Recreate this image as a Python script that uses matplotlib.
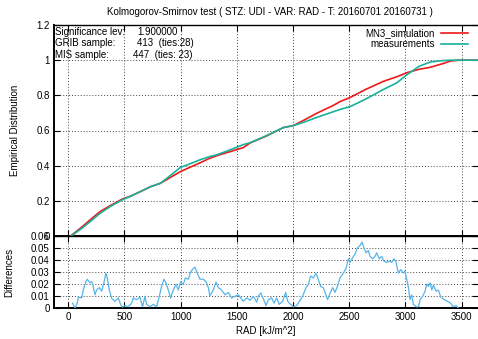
import matplotlib
matplotlib.use("Agg")
import matplotlib.pyplot as plt

plt.rcParams['font.family'] = ['Liberation Sans', 'DejaVu Sans']
plt.rcParams['font.size'] = 7

# empirical distribution curves (knots)
sim_x = [20, 80, 134, 200, 285, 380, 481, 560, 650, 730, 820, 900, 997, 1080, 1175,
         1250, 1327, 1440, 1558, 1620, 1750, 1915, 2003, 2100, 2217, 2350, 2420,
         2511, 2650, 2805, 2920, 3019, 3120, 3224, 3320, 3400, 3480, 3700]
sim_y = [0.0, 0.03, 0.058, 0.095, 0.14, 0.175, 0.21, 0.228, 0.255, 0.28, 0.30, 0.33,
         0.366, 0.39, 0.417, 0.44, 0.458, 0.48, 0.503, 0.53, 0.565, 0.617, 0.628,
         0.66, 0.70, 0.74, 0.765, 0.789, 0.835, 0.88, 0.905, 0.93, 0.948, 0.96,
         0.978, 0.995, 1.0, 1.0]
mis_x = [25, 80, 134, 200, 285, 380, 481, 560, 650, 730, 820, 900, 997, 1080, 1175,
         1250, 1327, 1440, 1558, 1620, 1750, 1915, 2003, 2100, 2217, 2350, 2420,
         2511, 2650, 2805, 2920, 3019, 3120, 3224, 3320, 3400, 3480, 3700]
mis_y = [0.0, 0.025, 0.05, 0.085, 0.13, 0.17, 0.206, 0.228, 0.255, 0.28, 0.30, 0.34,
         0.39, 0.41, 0.434, 0.45, 0.463, 0.49, 0.52, 0.531, 0.567, 0.617, 0.628,
         0.648, 0.676, 0.705, 0.72, 0.737, 0.78, 0.834, 0.87, 0.92, 0.965, 0.99,
         0.997, 1.0, 1.0, 1.0]

# absolute difference between the two distributions
diff_x = [38, 60, 80, 89, 119, 133, 157, 169, 193, 208, 222, 237, 252, 276, 297, 317,
          335, 347, 365, 386, 415, 445, 466, 483, 504, 534, 563, 578, 608, 638, 661,
          682, 697, 727, 756, 786, 810, 830, 851, 869, 890, 910, 934, 958, 979, 999,
          1023, 1041, 1068, 1088, 1112, 1127, 1148, 1171, 1201, 1225, 1246, 1260,
          1290, 1314, 1335, 1364, 1394, 1424, 1453, 1483, 1513, 1528, 1557, 1588,
          1617, 1646, 1676, 1691, 1712, 1736, 1759, 1780, 1809, 1830, 1854, 1877,
          1907, 1934, 1952, 1978, 2002, 2032, 2056, 2085, 2115, 2136, 2156, 2180,
          2204, 2224, 2245, 2269, 2292, 2307, 2328, 2352, 2373, 2394, 2417, 2447,
          2471, 2492, 2507, 2530, 2551, 2572, 2595, 2613, 2631, 2649, 2670, 2684,
          2708, 2729, 2744, 2767, 2788, 2809, 2833, 2856, 2877, 2898, 2916, 2937,
          2957, 2981, 2996, 3011, 3026, 3040, 3055, 3070, 3094, 3115, 3130, 3153,
          3174, 3189, 3204, 3219, 3234, 3248, 3272, 3293, 3313, 3343, 3373, 3402,
          3425, 3449, 3470]
diff_y = [0.004, 0.0, 0.004, 0.009, 0.0084, 0.015, 0.022, 0.024, 0.021, 0.022, 0.018,
          0.011, 0.015, 0.017, 0.014, 0.021, 0.029, 0.025, 0.015, 0.008, 0.0056,
          0.0084, 0.0028, 0.0008, 0.002, 0.001, 0.004, 0.0084, 0.007, 0.009, 0.001,
          0.0098, 0.003, 0.001, 0.003, 0.001, 0.0098, 0.018, 0.024, 0.021, 0.015,
          0.0084, 0.015, 0.0196, 0.015, 0.022, 0.0196, 0.025, 0.024, 0.030, 0.033,
          0.034, 0.029, 0.024, 0.024, 0.022, 0.017, 0.010, 0.015, 0.0216, 0.017,
          0.015, 0.011, 0.013, 0.0084, 0.0098, 0.011, 0.0092, 0.0056, 0.0084,
          0.0064, 0.0098, 0.0048, 0.010, 0.0126, 0.0076, 0.002, 0.007, 0.0084,
          0.004, 0.0084, 0.003, 0.0056, 0.013, 0.0056, 0.003, 0.001, 0.002, 0.0056,
          0.0098, 0.017, 0.0196, 0.0266, 0.025, 0.029, 0.024, 0.018, 0.017, 0.011,
          0.007, 0.012, 0.017, 0.013, 0.018, 0.025, 0.029, 0.033, 0.041, 0.038,
          0.042, 0.045, 0.050, 0.052, 0.055, 0.050, 0.046, 0.048, 0.043, 0.041,
          0.043, 0.046, 0.041, 0.043, 0.039, 0.038, 0.039, 0.038, 0.041, 0.038,
          0.029, 0.032, 0.029, 0.031, 0.024, 0.017, 0.007, 0.011, 0.003, 0.001,
          0.001, 0.007, 0.0098, 0.014, 0.020, 0.018, 0.021, 0.015, 0.019, 0.014,
          0.015, 0.0092, 0.007, 0.0056, 0.004, 0.001, 0.002, 0.0]

x_ticks = [0, 500, 1000, 1500, 2000, 2500, 3000, 3500]
top_yticks = [0, 0.2, 0.4, 0.6, 0.8, 1.0, 1.2]
top_ylabels = ['0', '0.2', '0.4', '0.6', '0.8', '1', '1.2']
bot_yticks = [0, 0.01, 0.02, 0.03, 0.04, 0.05, 0.06]
bot_ylabels = ['0', '0.01', '0.02', '0.03', '0.04', '0.05', '0.06']

W, H = 478, 339
fig = plt.figure(figsize=(W / 100, H / 100), dpi=100)


def box(l, t, r, b):
    return [l / W, 1 - b / H, (r - l) / W, (b - t) / H]


ax1 = fig.add_axes(box(54, 25, 478, 236))
ax2 = fig.add_axes(box(54, 236, 478, 308))
xlim = (-127, 3645)

for ax in (ax1, ax2):
    ax.set_xlim(*xlim)
    ax.set_xticks(x_ticks)
    ax.tick_params(direction='in', length=4, width=0.8, top=True, right=True,
                   labelsize=7, pad=3)
    ax.grid(True, color='#444444', linestyle=(0, (1, 2)), linewidth=0.7)
    ax.spines['right'].set_visible(False)
    ax.spines['left'].set_linewidth(1.4)
    ax.spines['bottom'].set_linewidth(1.4)
    ax.spines['top'].set_linewidth(1.0)

ax1.plot(sim_x, sim_y, color='#f01818', lw=1.2, label='MN3_simulation', zorder=3)
ax1.plot(mis_x, mis_y, color='#17b29c', lw=1.2, label='measurements', zorder=3)
ax1.set_ylim(0, 1.2)
ax1.set_yticks(top_yticks)
ax1.set_yticklabels(top_ylabels)
ax1.tick_params(labelbottom=False)
ax1.set_ylabel('Empirical Distribution', fontsize=7, labelpad=12)

ax2.plot(diff_x, diff_y, color='#56b4e9', lw=0.9, zorder=3)
ax2.set_ylim(0, 0.06)
ax2.set_yticks(bot_yticks)
ax2.set_yticklabels(bot_ylabels)
ax2.set_ylabel('Differences', fontsize=7, labelpad=12)
ax2.set_xlabel('RAD [kJ/m^2]', fontsize=7, labelpad=3)

fig.text(270 / W, 1 - 12 / H,
         'Kolmogorov-Smirnov test ( STZ: UDI - VAR: RAD - T: 20160701 20160731 )',
         ha='center', va='center', fontsize=7)

# sample info block
info = [('Significance lev:', '1.900000', 137),
        ('GRIB sample:', '413  (ties:28)', 137),
        ('MIS sample:', '447  (ties: 23)', 133)]
for i, (lab, val, xv) in enumerate(info):
    yy = 1 - (32 + 11.5 * i) / H
    fig.text(55 / W, yy, lab, ha='left', va='center', fontsize=7)
    fig.text(xv / W, yy, val, ha='left', va='center', fontsize=7)

# key, drawn by hand in gnuplot fashion
for i, (lab, col) in enumerate([('MN3_simulation', '#f01818'),
                                ('measurements', '#17b29c')]):
    yy = 1 - (33 + 11 * i) / H
    fig.text(435 / W, yy, lab, ha='right', va='center', fontsize=7)
    fig.add_artist(plt.Line2D([441 / W, 468 / W], [yy, yy], color=col, lw=1.2))

fig.savefig('out.png', dpi=100)
